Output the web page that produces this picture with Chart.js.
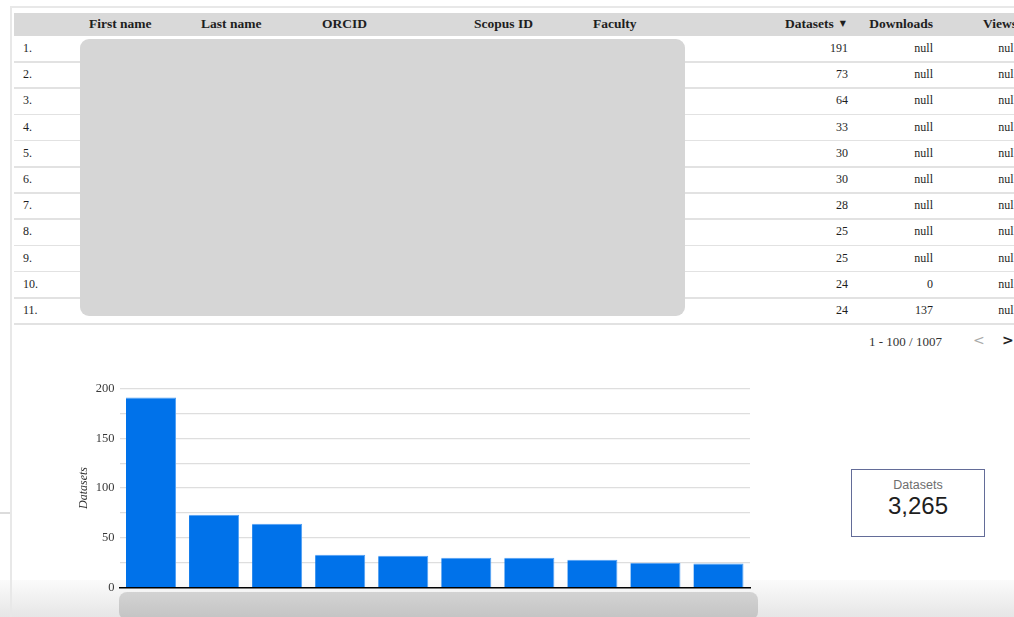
<!DOCTYPE html>
<html>
<head>
<meta charset="utf-8">
<script src="https://cdn.jsdelivr.net/npm/chart.js@4.4.1/dist/chart.umd.min.js"></script>
<style>
  html, body { margin: 0; padding: 0; }
  body {
    width: 1014px; height: 617px; overflow: hidden; position: relative;
    background: #fff; font-family: "Liberation Serif", "DejaVu Serif", serif; color: #222;
  }
  .abs { position: absolute; }
  .frame-top { left: 10px; top: 6px; width: 1004px; height: 2px; background: #e8e8e8; }
  .frame-left { left: 10px; top: 6px; width: 2px; height: 611px; background: #e8e8e8; }
  .stub { left: 0; top: 512px; width: 10px; height: 2px; background: #dcdcdc; }
  .bottom-band { left: 0; top: 580px; width: 1014px; height: 37px;
    background: linear-gradient(to bottom, #fbfbfb, #e6e6e6); }
  .thead { left: 14px; top: 13px; width: 1000px; height: 23px; background: #d9d9d9; }
  .cell { position: absolute; font-size: 12px; white-space: nowrap; color: #1e1e1e; }
  .hcell { font-weight: bold; font-size: 13.5px; }
  .sort { font-family: "DejaVu Sans", sans-serif; font-size: 8px; margin-left: 6px; vertical-align: 2px; }
  .rowline { position: absolute; left: 14px; width: 1000px; height: 1.5px; background: #e2e2e2; }
  .mask { left: 80px; top: 39px; width: 605px; height: 277px; background: #d6d6d6; border-radius: 9px; }
  .pager { left: 869px; top: 334px; font-size: 13px; color: #333; }
  .prev { left: 973px; top: 332px; font-size: 14px; color: #aaa; font-family: "DejaVu Sans", sans-serif; }
  .next { left: 1002px; top: 332px; font-size: 14px; color: #222; font-weight: bold; font-family: "DejaVu Sans", sans-serif; }
  #chartBox { left: 60px; top: 376px; width: 700px; height: 224px; }
  .xmask { left: 119px; top: 592px; width: 639px; height: 28px; border-radius: 8px;
    background: linear-gradient(to bottom, #d3d3d3, #c3c3c3); }
  .score { left: 851px; top: 469px; width: 132px; height: 66px; border: 1.5px solid #636c98; background: #fff; }
  .score .lbl { position: absolute; left: 0; width: 100%; top: 8px; text-align: center;
    font-family: "Liberation Sans Narrow", "Liberation Sans", sans-serif; font-size: 12.5px; color: #6e6e6e; }
  .score .val { position: absolute; left: 0; width: 100%; top: 22px; text-align: center;
    font-family: "Liberation Sans", sans-serif; font-size: 24px; color: #1e1e1e; }
</style>
</head>
<body>
<div class="abs bottom-band"></div>
<div class="abs frame-top"></div>
<div class="abs frame-left"></div>
<div class="abs stub"></div>
<div class="abs thead"></div>
<div id="tableLayer"></div>
<div class="abs mask"></div>
<div class="abs pager">1 - 100 / 1007</div>
<div class="abs prev">&lt;</div>
<div class="abs next">&gt;</div>
<div class="abs" id="chartBox"><canvas id="topChart"></canvas></div>
<div class="abs xmask"></div>
<div class="abs score"><div class="lbl">Datasets</div><div class="val" id="totalVal"></div></div>

<script>
// Table data (names/IDs are hidden behind the grey box in the original)
const headers = ['', 'First name', 'Last name', 'ORCID', 'Scopus ID', 'Faculty', 'Datasets', 'Downloads', 'Views'];
const ranks = ['1.', '2.', '3.', '4.', '5.', '6.', '7.', '8.', '9.', '10.', '11.'];
const tableDatasets = [191, 73, 64, 33, 30, 30, 28, 25, 25, 24, 24];
const tableDownloads = ['null', 'null', 'null', 'null', 'null', 'null', 'null', 'null', 'null', '0', '137'];
const tableViews = ['null', 'null', 'null', 'null', 'null', 'null', 'null', 'null', 'null', 'null', 'null'];
const sortedColumn = 6;

// Bar chart data
const barLabels = ['1', '2', '3', '4', '5', '6', '7', '8', '9', '10'];
const barValues = [191, 73, 64, 33, 32, 30, 30, 28, 25, 24];
const yTicks = [0, 50, 100, 150, 200];
const totalDatasets = 3265;

document.getElementById('totalVal').textContent = totalDatasets.toLocaleString('en-US');

// Column layout: [x, align, headerX]  (x is left edge for 'left', right edge for 'right')
const columns = [
    [23, 'left', 23], [89, 'left', 89], [201, 'left', 201], [322, 'left', 322], [474, 'left', 474],
    [593, 'left', 593], [848, 'right', 846], [933, 'right', 933], [1017, 'right', 1017]
];
const rowTop = 36, rowH = 26.2;
const layer = document.getElementById('tableLayer');

function addCell(text, col, y, header) {
    const el = document.createElement('div');
    el.className = 'cell' + (header ? ' hcell' : '');
    el.textContent = text;
    if (header && col === sortedColumn) {
        const s = document.createElement('span');
        s.className = 'sort';
        s.textContent = '\u25BC';
        el.appendChild(s);
    }
    el.style.top = y + 'px';
    const [x, align, hx] = columns[col];
    const px = header ? hx : x;
    if (align === 'left') el.style.left = px + 'px';
    else el.style.right = (1014 - px) + 'px';
    layer.appendChild(el);
}

headers.forEach((h, i) => { if (h) addCell(h, i, 16, true); });

ranks.forEach((r, i) => {
    const y = rowTop + i * rowH + 5;
    addCell(r, 0, y);
    addCell(String(tableDatasets[i]), 6, y);
    addCell(tableDownloads[i], 7, y);
    addCell(tableViews[i], 8, y);
    const line = document.createElement('div');
    line.className = 'rowline';
    line.style.top = (rowTop + (i + 1) * rowH - 1) + 'px';
    layer.appendChild(line);
});

// Bar chart
const ctx = document.getElementById('topChart').getContext('2d');
new Chart(ctx, {
    type: 'bar',
    data: {
        labels: barLabels,
        datasets: [{
            data: barValues,
            backgroundColor: '#0072ea',
            borderColor: '#4f9ff4',
            borderWidth: { top: 1, right: 1, left: 0, bottom: 0 },
            borderSkipped: 'bottom',
            barPercentage: 0.794,
            categoryPercentage: 1
        }]
    },
    options: {
        responsive: true,
        maintainAspectRatio: false,
        animation: false,
        layout: { padding: { top: 10, right: 10, bottom: 12, left: 0 } },
        plugins: { legend: { display: false }, tooltip: { enabled: false } },
        scales: {
            x: {
                ticks: { display: false },
                grid: { display: false },
                border: { display: true, color: '#000', width: 1.5 },
                afterFit: scale => { scale.height = 0; }
            },
            y: {
                min: 0,
                max: 200,
                afterFit: scale => { scale.width = 59.5; },
                ticks: {
                    stepSize: 25,
                    padding: 5,
                    color: '#3a3a3a',
                    font: { family: 'Liberation Serif', size: 12.5 },
                    callback: v => (yTicks.includes(v) ? v : '')
                },
                grid: { color: '#dedede', lineWidth: 1.2, drawTicks: false },
                border: { display: false },
                title: {
                    display: true,
                    text: 'Datasets',
                    color: '#333',
                    font: { family: 'Liberation Serif', size: 12, style: 'italic' },
                    padding: { top: 17, bottom: 0 }
                }
            }
        }
    }
});
</script>
</body>
</html>
